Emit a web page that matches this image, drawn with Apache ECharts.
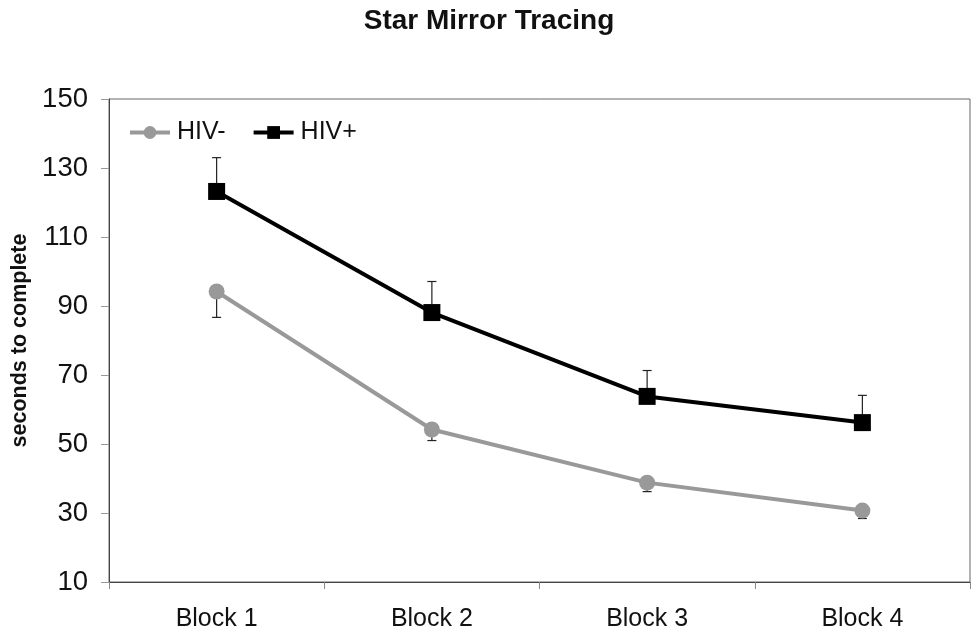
<!DOCTYPE html>
<html><head><meta charset="utf-8">
<script src="https://cdn.jsdelivr.net/npm/echarts@6/dist/echarts.min.js"></script>
<style>html,body{margin:0;padding:0;background:#fff}#c{width:975px;height:638px}</style>
</head><body><div id="c"></div>
<script>
const categories = ['Block 1', 'Block 2', 'Block 3', 'Block 4'];
const hivNeg = [94.2, 54.2, 38.8, 30.7];
const hivNegErr = [7.5, 3.2, 2.6, 2.3];
const hivPos = [123.2, 88.1, 63.8, 56.2];
const hivPosErr = [9.8, 9.0, 7.5, 7.9];
const yTicks = [10, 30, 50, 70, 90, 110, 130, 150];

const FONT = 'Liberation Sans, Arial, sans-serif';
const chart = echarts.init(document.getElementById('c'));
function errSeries(values, errs, dir) {
  return {
    type: 'custom',
    silent: true,
    z: 1,
    data: values.map((v, i) => [i, v, dir > 0 ? v + errs[i] : v - errs[i]]),
    renderItem: function (params, api) {
      const p0 = api.coord([api.value(0), api.value(1)]);
      const p1 = api.coord([api.value(0), api.value(2)]);
      const hw = 4.5;
      return {
        type: 'group',
        children: [
          { type: 'line', shape: { x1: p0[0], y1: p0[1], x2: p1[0], y2: p1[1] }, style: { stroke: '#222', lineWidth: 1.2 } },
          { type: 'line', shape: { x1: p1[0] - hw, y1: p1[1], x2: p1[0] + hw, y2: p1[1] }, style: { stroke: '#222', lineWidth: 1.2 } }
        ]
      };
    }
  };
}
chart.setOption({
  animation: false,
  title: {
    text: 'Star Mirror Tracing', left: 484, top: 2, textAlign: 'center',
    textStyle: { fontFamily: FONT, fontSize: 28, fontWeight: 'bold', color: '#111' }
  },
  legend: {
    left: 123, top: 115, itemWidth: 40, itemHeight: 16, itemGap: 26,
    lineStyle: { width: 4 },
    textStyle: { fontFamily: FONT, fontSize: 25, color: '#111', padding: [0, 0, 0, 2] },
    data: ['HIV-', 'HIV+']
  },
  grid: {
    left: 109, right: 5, top: 99, bottom: 56, containLabel: false, outerBoundsMode: 'none',
    show: true, borderColor: '#666', borderWidth: 1
  },
  xAxis: {
    type: 'category', data: categories, boundaryGap: true,
    axisLine: { lineStyle: { color: '#444', width: 1 } },
    axisTick: { show: true, length: 7, lineStyle: { color: '#888' } },
    axisLabel: { fontFamily: FONT, fontSize: 25, color: '#111', margin: 25 }
  },
  yAxis: {
    type: 'value', min: yTicks[0], max: yTicks[yTicks.length - 1], interval: 20,
    name: 'seconds to complete', nameLocation: 'middle', nameGap: 78,
    nameTextStyle: { fontFamily: FONT, fontSize: 21.5, fontWeight: 'bold', color: '#111' },
    axisLine: { show: true, lineStyle: { color: '#444', width: 1 } },
    axisTick: { show: true, length: 8, lineStyle: { color: '#999' } },
    axisLabel: { fontFamily: FONT, fontSize: 27.5, color: '#111', margin: 21 },
    splitLine: { show: false }
  },
  series: [
    errSeries(hivNeg, hivNegErr, -1),
    errSeries(hivPos, hivPosErr, 1),
    {
      name: 'HIV-', type: 'line', data: hivNeg, z: 3,
      symbol: 'circle', symbolSize: 16,
      lineStyle: { color: '#999', width: 4 },
      itemStyle: { color: '#999' }
    },
    {
      name: 'HIV+', type: 'line', data: hivPos, z: 4,
      symbol: 'rect', symbolSize: 17,
      lineStyle: { color: '#000', width: 4 },
      itemStyle: { color: '#000' }
    }
  ]
});
</script></body></html>
